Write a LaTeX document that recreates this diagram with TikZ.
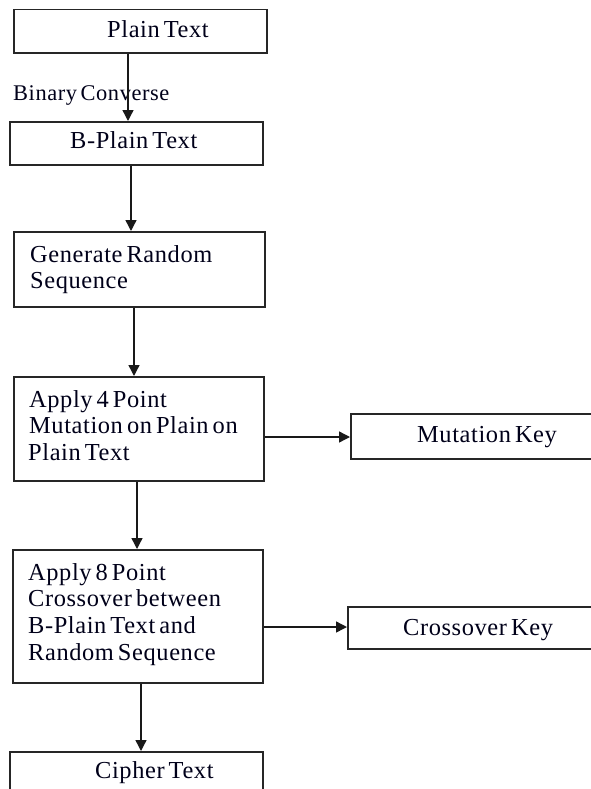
\documentclass[tikz,border=0pt]{standalone}
\usepackage{fontspec}
\setmainfont{Liberation Serif}[LetterSpace=2.5, WordSpace=0.6]
\usetikzlibrary{arrows.meta,positioning}

\tikzset{
  box/.style={draw=black!85, line width=1.5bp, inner sep=0pt, anchor=north west},
  lbl/.style={anchor=base west, inner sep=0pt, font=\fontsize{24.5}{28}\selectfont, text=black!90!blue},
  arr/.style={draw=black!90, line width=1.4bp, -{Triangle[length=11bp,width=11bp]}}
}

\begin{document}
\begin{tikzpicture}[x=1bp, y=-1bp]
  \useasboundingbox (0,0) rectangle (591,789);
  \clip (0,0) rectangle (591,789);

  % boxes (top-left corner, size)
  \node[box, minimum width=253bp, minimum height=43bp] (pt)   at (13,9)    {};
  \node[box, minimum width=253bp, minimum height=43bp] (bpt)  at (9,121)   {};
  \node[box, minimum width=251bp, minimum height=75bp] (grs)  at (13,231)  {};
  \node[box, minimum width=250bp, minimum height=104bp] (mut) at (13,376)  {};
  \node[box, minimum width=260bp, minimum height=45bp] (mkey) at (350,413) {};
  \node[box, minimum width=250bp, minimum height=133bp] (cro) at (12,549)  {};
  \node[box, minimum width=300bp, minimum height=42bp] (ckey) at (347,606) {};
  \node[box, minimum width=253bp, minimum height=60bp] (ct)   at (9,751)   {};

  % labels
  \node[lbl] (tpt)  at (107,38)  {Plain Text};
  \node[lbl, font=\fontsize{22.5}{26}\selectfont] (tbc) at (13,100) {Binary Converse};
  \node[lbl] (tbpt) at (70,148)  {B-Plain Text};
  \node[lbl] (tgrs1) at (30,262) {Generate Random};
  \node[lbl] (tgrs2) at (30,288) {Sequence};
  \node[lbl] (tmut1) at (29,407) {Apply 4 Point};
  \node[lbl] (tmut2) at (29,433) {Mutation on Plain on};
  \node[lbl] (tmut3) at (28,460) {Plain Text};
  \node[lbl] (tmkey) at (417,442) {Mutation Key};
  \node[lbl] (tcro1) at (28,580) {Apply 8 Point};
  \node[lbl] (tcro2) at (28,606) {Crossover between};
  \node[lbl] (tcro3) at (28,633) {B-Plain Text and};
  \node[lbl] (tcro4) at (28,660) {Random Sequence};
  \node[lbl] (tckey) at (403,635) {Crossover Key};
  \node[lbl] (tct)   at (95,778) {Cipher Text};

  % connectors
  \draw[arr] (pt.south -| 128,0)  -- (bpt.north -| 128,0);
  \draw[arr] (bpt.south -| 131,0) -- (grs.north -| 131,0);
  \draw[arr] (grs.south -| 134,0) -- (mut.north -| 134,0);
  \draw[arr] (mut.south -| 137,0) -- (cro.north -| 137,0);
  \draw[arr] (cro.south -| 141,0) -- (ct.north -| 141,0);
  \draw[arr] (mut.east |- 0,437)  -- (mkey.west |- 0,437);
  \draw[arr] (cro.east |- 0,627)  -- (ckey.west |- 0,627);
\end{tikzpicture}
\end{document}
